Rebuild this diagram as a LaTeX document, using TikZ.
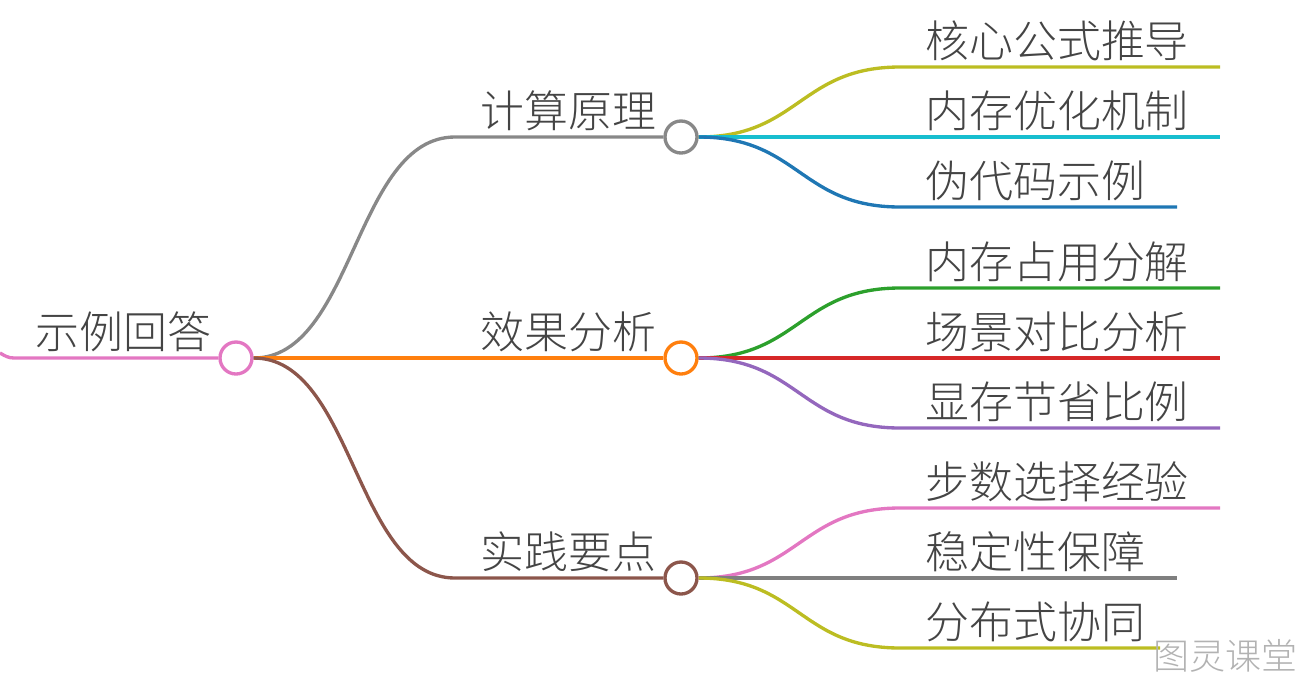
\documentclass[tikz,border=0pt]{standalone}
\usepackage{fontspec}
\newfontfamily\cjk{Noto Sans CJK SC Light}
\usetikzlibrary{calc}
\definecolor{txtgray}{HTML}{444444}
\definecolor{cgray}{HTML}{888888}
\definecolor{corange}{HTML}{FF7F0E}
\definecolor{cbrown}{HTML}{8C564B}
\definecolor{cpink}{HTML}{E377C2}
\definecolor{colive}{HTML}{BCBD22}
\definecolor{ccyan}{HTML}{17BECF}
\definecolor{cblue}{HTML}{1F77B4}
\definecolor{cgreen}{HTML}{2CA02C}
\definecolor{cred}{HTML}{D62728}
\definecolor{cpurple}{HTML}{9467BD}
\definecolor{cgrey}{HTML}{7F7F7F}
\tikzset{
	hub/.style={circle,draw,fill=white,line width=1.9pt,minimum size=0.64cm,inner sep=0pt},
	lbl/.style={font=\cjk\fontsize{25}{30}\selectfont,text=txtgray,inner sep=0pt},
	wire/.style={line width=1.9pt}
}
\def\swoop[#1](#2)(#3)(#4){\draw[wire,#1] (#2) .. controls +(100,0) and +(-100,0) .. (#3) -- (#4);}

\begin{document}
\begin{tikzpicture}[x=0.02cm,y=-0.02cm]
			%%%%% START %%%%%
			\def\xroot{236}
			\def\xhub{681}
			\def\xbend{455}
			\def\xcbend{900}
			\def\xctxt{925}
			\def\xlong{1220}
			\def\xshort{1177}
			\def\yone{137}
			\def\ytwo{358}
			\def\ythree{578}
			\def\dy{70}
			\def\dbase{10}
			
			\useasboundingbox (0,0) rectangle (1305,684);
			
			% root
			\coordinate (rootin) at (0,353);
			\node[hub,draw=cpink] (root) at (\xroot,\ytwo) {};
			\node[lbl,anchor=base west] (roottxt) at (35,\ytwo-\dbase) {示例回答};
			\draw[wire,cpink] (rootin) to[out=-30,in=180] (14,\ytwo) -- (root.west);
			
			% branches
			\coordinate (bendone) at (\xbend,\yone);
			\coordinate (bendthree) at (\xbend,\ythree);
			\node[hub,draw=cgray] (calc) at (\xhub,\yone) {};
			\node[hub,draw=corange] (effect) at (\xhub,\ytwo) {};
			\node[hub,draw=cbrown] (practice) at (\xhub,\ythree) {};
			\swoop[cgray](root.east)(bendone)(calc.west);
			\draw[wire,corange] (root.east) -- (effect.west);
			\swoop[cbrown](root.east)(bendthree)(practice.west);
			\node[lbl,anchor=base west] (calctxt) at (480,\yone-\dbase) {计算原理};
			\node[lbl,anchor=base west] (effecttxt) at (480,\ytwo-\dbase) {效果分析};
			\node[lbl,anchor=base west] (practicetxt) at (480,\ythree-\dbase) {实践要点};
			
			% leaves of calc
			\coordinate (formulabend) at (\xcbend,\yone-\dy);
			\coordinate (formulaend) at (\xlong,\yone-\dy);
			\coordinate (memend) at (\xlong,\yone);
			\coordinate (codebend) at (\xcbend,\yone+\dy);
			\coordinate (codeend) at (\xshort,\yone+\dy);
			\swoop[colive](calc.east)(formulabend)(formulaend);
			\draw[wire,ccyan] (calc.east) -- (memend);
			\swoop[cblue](calc.east)(codebend)(codeend);
			\node[lbl,anchor=base west] (formula) at (\xctxt,\yone-\dy-\dbase) {核心公式推导};
			\node[lbl,anchor=base west] (mem) at (\xctxt,\yone-\dbase) {内存优化机制};
			\node[lbl,anchor=base west] (code) at (\xctxt,\yone+\dy-\dbase) {伪代码示例};
			
			% leaves of effect
			\coordinate (usebend) at (\xcbend,\ytwo-\dy);
			\coordinate (useend) at (\xlong,\ytwo-\dy);
			\coordinate (sceneend) at (\xlong,\ytwo);
			\coordinate (savebend) at (\xcbend,\ytwo+\dy);
			\coordinate (saveend) at (\xlong,\ytwo+\dy);
			\swoop[cgreen](effect.east)(usebend)(useend);
			\draw[wire,cred] (effect.east) -- (sceneend);
			\swoop[cpurple](effect.east)(savebend)(saveend);
			\node[lbl,anchor=base west] (use) at (\xctxt,\ytwo-\dy-\dbase) {内存占用分解};
			\node[lbl,anchor=base west] (scene) at (\xctxt,\ytwo-\dbase) {场景对比分析};
			\node[lbl,anchor=base west] (save) at (\xctxt,\ytwo+\dy-\dbase) {显存节省比例};
			
			% leaves of practice
			\coordinate (stepsbend) at (\xcbend,\ythree-\dy);
			\coordinate (stepsend) at (\xlong,\ythree-\dy);
			\coordinate (stableend) at (\xshort,\ythree);
			\coordinate (distbend) at (\xcbend,\ythree+\dy);
			\coordinate (distend) at (1160,\ythree+\dy);
			\swoop[cpink](practice.east)(stepsbend)(stepsend);
			\draw[wire,cgrey] (practice.east) -- (stableend);
			\swoop[colive](practice.east)(distbend)(distend);
			\node[lbl,anchor=base west] (steps) at (\xctxt,\ythree-\dy-\dbase) {步数选择经验};
			\node[lbl,anchor=base west] (stable) at (\xctxt,\ythree-\dbase) {稳定性保障};
			\node[lbl,anchor=base west] (dist) at (\xctxt,\ythree+\dy-\dbase) {分布式协同};
			
			\node[font=\cjk\fontsize{20.5}{24}\selectfont,text=black!30,inner sep=0pt,anchor=base west] (mark) at (1153,669) {图灵课堂};
			%%%%% END %%%%%
\end{tikzpicture}
\end{document}
